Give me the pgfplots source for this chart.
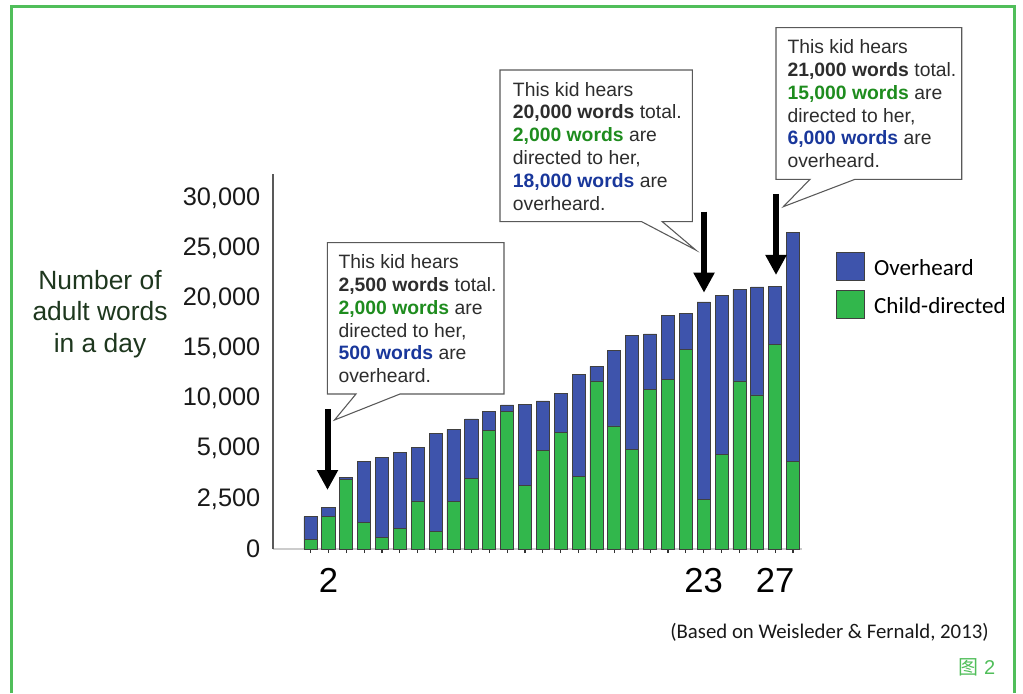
\documentclass[border=0pt]{standalone}
\usepackage{fontspec}
\setmainfont{Liberation Sans}
\newfontfamily\carlito{Carlito}
\newfontfamily\cjk{Noto Sans CJK SC}
\usepackage{pgfplots}
\usepackage{pgfplotstable}
\pgfplotsset{compat=1.18}
\usetikzlibrary{arrows.meta}

\definecolor{cblue}{RGB}{62,84,172}
\definecolor{cgreen}{RGB}{50,183,76}
\definecolor{frameg}{RGB}{80,190,90}
\definecolor{txtgreen}{RGB}{30,140,30}
\definecolor{txtblue}{RGB}{25,55,155}
\definecolor{ylabcol}{RGB}{30,55,30}
\definecolor{txtdark}{RGB}{45,45,45}

% values in the chart's drawn scale: ticks 0,2500,5000,10000,... are evenly spaced,
% so heights are given in "tick units" (5000 per tick step)
\pgfplotstableread{
kid green blue
1 997 2224
2 3221 897
3 6980 130
4 2623 6152
5 1167 7978
6 2024 7579
7 4787 5384
8 1725 9773
9 4757 7180
10 7080 5884
11 11797 1964
12 13731 629
13 6332 8058
14 9852 4907
15 11637 3919
16 7250 10131
17 16753 1466
18 12266 7508
19 9972 11368
20 15925 5515
21 16952 6313
22 19874 3630
23 4986 19645
24 9443 15816
25 16753 9104
26 15357 10770
27 20412 5784
28 8706 22835
}\datatable

\begin{document}
\begin{tikzpicture}
\begin{axis}[
  at={(204.75pt,108pt)}, anchor=south west,
  scale only axis, width=396.75pt, height=281.25pt,
  ybar stacked, bar width=9.8pt,
  xmin=-1.10, xmax=28.5, ymin=0, ymax=37395,
  enlargelimits=false,
  scaled y ticks=false,
  axis x line*=bottom, axis y line*=left,
  x axis line style={draw=black!20, line width=1pt},
  y axis line style={draw=black!65, line width=1.5pt},
  tick align=outside, major tick length=3pt,
  xtick={1,...,28},
  xticklabels={{},2,{},{},{},{},{},{},{},{},{},{},{},{},{},{},{},{},{},{},{},{},23,{},{},{},27,{}},
  xtick style={draw=black!80, line width=0.9pt},
  xticklabel style={font=\fontsize{26}{28}\selectfont, text=black, yshift=-8pt},
  ytick={0,5000,...,35000},
  yticklabels={0,{2,500},{5,000},{10,000},{15,000},{20,000},{25,000},{30,000}},
  ytick style={draw=none},
  yticklabel style={font=\fontsize{19}{21}\selectfont, text=black!90, xshift=-3pt},
  every axis y label/.style={at={(axis description cs:-0.327,0.6267)}, anchor=center, align=center,
     font=\fontsize{19.8}{23.6}\selectfont, text=ylabcol},
  ylabel={Number of\\adult words\\in a day},
  legend image code/.code={\draw[#1, line width=0.6pt] (0pt,-9pt) rectangle (21pt,12pt);},
  reverse legend,
  legend style={draw=none, fill=none, inner sep=0pt, outer sep=0pt,
     at={(axis description cs:1,1)}, anchor=north west, xshift=25.5pt, yshift=-58.5pt,
     row sep=7pt, font=\carlito\fontsize{17.3}{20}\selectfont,
     nodes={inner sep=0pt},
     /tikz/every odd column/.append style={column sep=7pt}},
  legend cell align=left,
]
\addplot[fill=cgreen, draw=black!75, line width=0.6pt] table[x=kid, y=green] {\datatable};
\addlegendentry{Child-directed}
\addplot[fill=cblue, draw=black!75, line width=0.6pt] table[x=kid, y=blue] {\datatable};
\addlegendentry{Overheard}
\end{axis}

\begin{scope}[x=0.75pt,y=0.75pt]
% frame
\draw[frameg, line width=1.9pt] (11.3,0) -- (11.3,686.7) -- (1014.5,686.7) -- (1014.5,0);

% callouts
\tikzset{callout/.style={fill=white, draw=black!65, line width=0.8pt, line join=miter}}
\draw[callout] (327.3,450.3) -- (504,450.3) -- (504,299) -- (400,299) -- (334.5,273) -- (356,299) -- (327.3,299) -- cycle;
\draw[callout] (500,623) -- (692.3,623) -- (692.3,471.3) -- (662.3,471.3) -- (695.7,443) -- (641.7,471.3) -- (500,471.3) -- cycle;
\draw[callout] (776,665.3) -- (961.7,665.3) -- (961.7,513.7) -- (855,513.7) -- (783.3,486.3) -- (810,513.7) -- (776,513.7) -- cycle;

\tikzset{ctext/.style={anchor=north west, align=left, inner sep=0pt, text=txtdark, font=\fontsize{14.5}{17.1}\selectfont}}
\node[ctext] at (338.3,438.6) {This kid hears\\\textbf{2,500 words} total.\\\textcolor{txtgreen}{\textbf{2,000 words}} are\\directed to her,\\\textcolor{txtblue}{\textbf{500 words}} are\\overheard.};
\node[ctext] at (512.7,611.2) {This kid hears\\\textbf{20,000 words} total.\\\textcolor{txtgreen}{\textbf{2,000 words}} are\\directed to her,\\\textcolor{txtblue}{\textbf{18,000 words}} are\\overheard.};
\node[ctext] at (787.3,653.6) {This kid hears\\\textbf{21,000 words} total.\\\textcolor{txtgreen}{\textbf{15,000 words}} are\\directed to her,\\\textcolor{txtblue}{\textbf{6,000 words}} are\\overheard.};

% arrows
\tikzset{bigarrow/.style={line width=4.5pt, -{Triangle[width=15pt,length=15pt]}}}
\draw[bigarrow] (327.5,284) -- (327.5,203);
\draw[bigarrow] (704,481.3) -- (704,400.3);
\draw[bigarrow] (776,499) -- (776,418);

% source and figure number
\node[anchor=center, inner sep=0pt, text=black!90, font=\carlito\fontsize{15.6}{18}\selectfont] at (829.5,61) {(Based on Weisleder \& Fernald, 2013)};
\node[anchor=center, inner sep=0pt, text=frameg, font=\fontsize{15}{17}\selectfont] at (977,26) {{\cjk 图} 2};

\pgfresetboundingbox
\path[use as bounding box] (0,0) rectangle (1023,693);
\end{scope}
\end{tikzpicture}
\end{document}
